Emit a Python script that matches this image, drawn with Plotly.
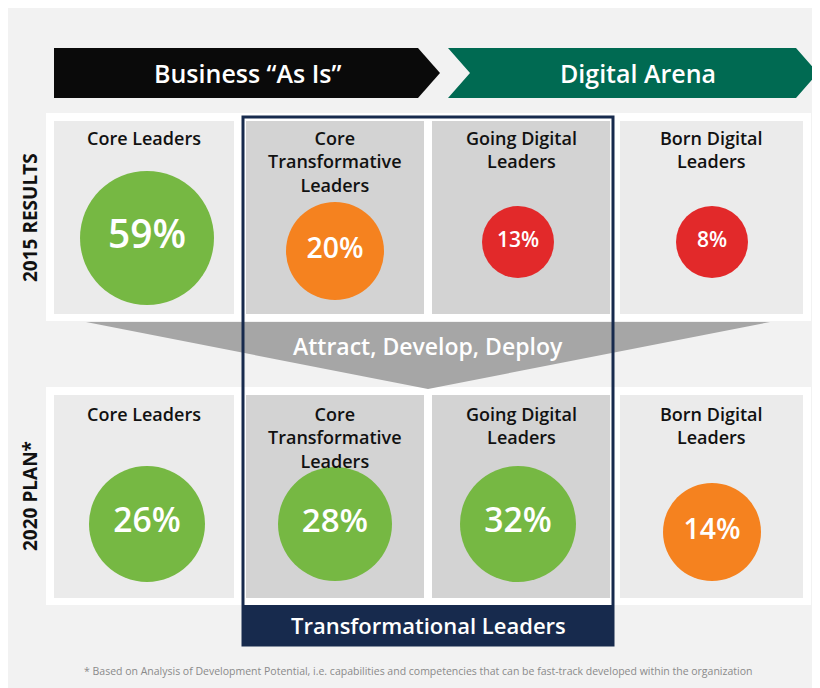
import plotly.graph_objects as go

# data
segments = ["Core Leaders", "Core<br>Transformative<br>Leaders", "Going Digital<br>Leaders", "Born Digital<br>Leaders"]
results_2015 = [59, 20, 13, 8]
plan_2020 = [26, 28, 32, 14]
colors_2015 = ["#76b843", "#f5821f", "#e2292a", "#e2292a"]
colors_2020 = ["#76b843", "#76b843", "#76b843", "#f5821f"]
diam_2015 = [134, 98, 72, 72]
diam_2020 = [116, 114, 116, 98]

W, H = 820, 688
cell_x = [(46, 226), (238, 416), (424, 602), (612, 795)]
cell_fill = ["#ebebeb", "#d3d3d3", "#d3d3d3", "#ebebeb"]
FONT = "Open Sans"

fig = go.Figure()
shapes = []
ann = []

# white row bands and cells
for (y0, y1) in [(105, 313), (379, 597)]:
    shapes.append(dict(type="rect", x0=38, x1=803, y0=y0, y1=y1, fillcolor="white", line_width=0, layer="below"))
    for (x0, x1), f in zip(cell_x, cell_fill):
        shapes.append(dict(type="rect", x0=x0, x1=x1, y0=y0 + 8, y1=y1 - 7, fillcolor=f, line_width=0, layer="below"))

# funnel
shapes.append(dict(type="path", path="M 78 314 L 762 314 L 420 381 Z", fillcolor="#a6a6a6", line_width=0))
ann.append(dict(x=420, y=338, text="Attract, Develop, Deploy", showarrow=False,
                font=dict(family=FONT, size=23, color="white", weight=600)))

# header arrows
shapes.append(dict(type="path", path="M 46 40 L 410 40 L 432 65 L 410 90 L 46 90 Z", fillcolor="#0a0a0a", line_width=0))
shapes.append(dict(type="path", path="M 440 40 L 788 40 L 810 65 L 788 90 L 440 90 L 462 65 Z", fillcolor="#006a52", line_width=0))
ann.append(dict(x=240, y=65, text="Business “As Is”", showarrow=False, font=dict(family=FONT, size=25, color="white", weight=600)))
ann.append(dict(x=630, y=65, text="Digital Arena", showarrow=False, font=dict(family=FONT, size=25, color="white", weight=600)))

# blue box
shapes.append(dict(type="rect", x0=235, x1=605, y0=109, y1=637, fillcolor="rgba(0,0,0,0)", line=dict(color="#172a4d", width=3)))
shapes.append(dict(type="rect", x0=235, x1=605, y0=597, y1=637, fillcolor="#172a4d", line_width=0))
ann.append(dict(x=420, y=617, text="Transformational Leaders", showarrow=False, font=dict(family=FONT, size=22, color="white", weight=600)))

# side labels
ann.append(dict(x=22, y=210, text="<b>2015 RESULTS</b>", textangle=-90, showarrow=False, font=dict(family=FONT, size=19, color="#111")))
ann.append(dict(x=22, y=488, text="<b>2020 PLAN*</b>", textangle=-90, showarrow=False, font=dict(family=FONT, size=19, color="#111")))

# titles
for i, (x0, x1) in enumerate(cell_x):
    cx = (x0 + x1) / 2
    for ytop in (116, 392):
        ann.append(dict(x=cx, y=ytop, yanchor="top", text=segments[i], showarrow=False,
                        font=dict(family=FONT, size=18, color="#111", weight=600,
                                  lineposition="none"),
                        ))

cx_list = [139, 327, 510, 704]
cy_2015 = [230, 243, 234, 234]
cy_2020 = [516, 516, 516, 524]
for vals, cols, diams, cys in [(results_2015, colors_2015, diam_2015, cy_2015),
                               (plan_2020, colors_2020, diam_2020, cy_2020)]:
    fig.add_trace(go.Scatter(
        x=cx_list, y=cys, mode="markers+text",
        marker=dict(size=diams, color=cols, line_width=0, opacity=1),
        text=[f"{v}%" for v in vals], textposition="middle center",
        textfont=dict(family=FONT, size=[d * 0.29 if d > 80 else 21 for d in diams], color="white", weight=600),
        hoverinfo="skip", showlegend=False))

ann.append(dict(x=410, y=663, text="* Based on Analysis of Development Potential, i.e. capabilities and competencies that can be fast-track developed within the organization",
                showarrow=False, font=dict(family=FONT, size=10.5, color="#8a8a8a")))

fig.update_layout(
    width=W, height=H, margin=dict(l=0, r=0, t=0, b=0, pad=0, autoexpand=False),
    paper_bgcolor="#f2f2f2", plot_bgcolor="#f2f2f2",
    xaxis=dict(range=[0, W], visible=False, fixedrange=True),
    yaxis=dict(range=[H, 0], visible=False, fixedrange=True),
    shapes=shapes, annotations=ann,
)
fig.write_html("out.html")
